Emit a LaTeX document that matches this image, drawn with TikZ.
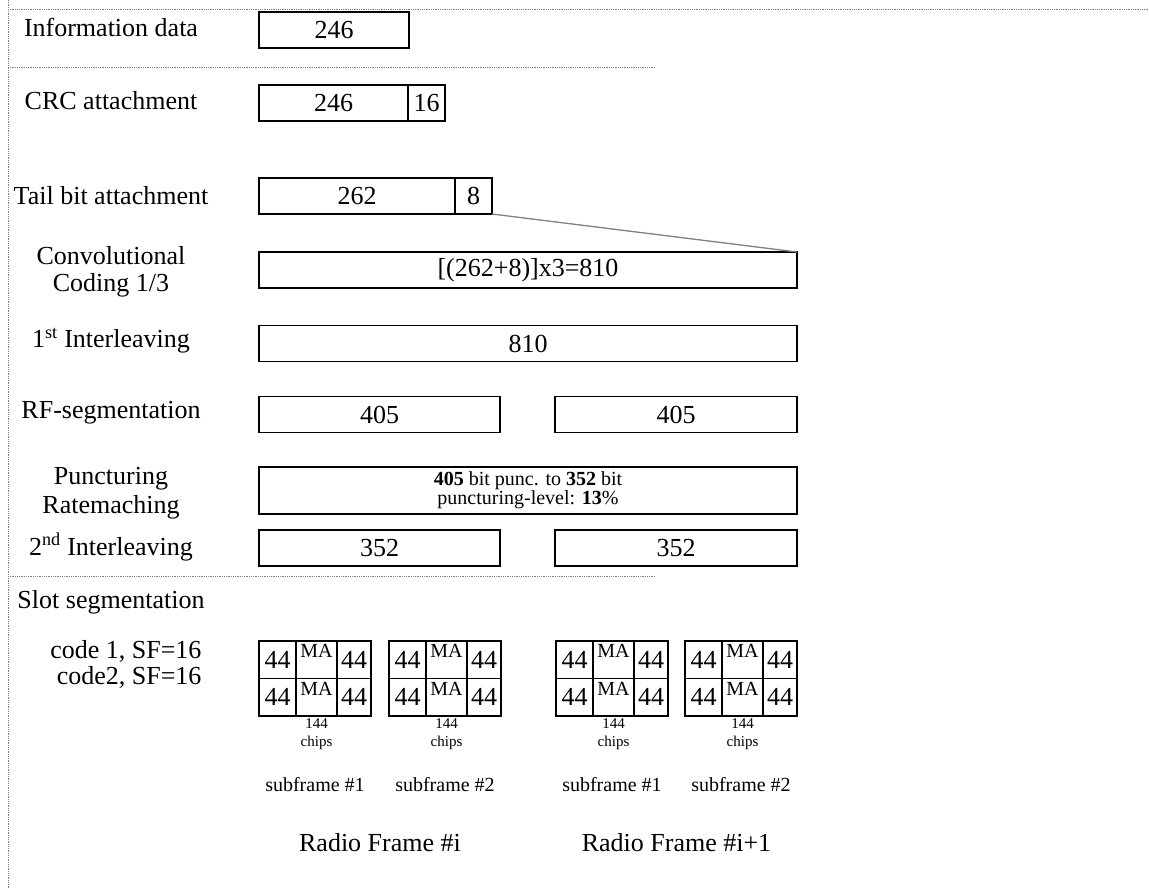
\documentclass[tikz,border=0pt]{standalone}
\usepackage{fontspec}
\setmainfont{Liberation Serif}
\usetikzlibrary{calc}

\begin{document}
\begin{tikzpicture}[x=1pt,y=-1pt,
  box/.style={draw, line width=1.6pt, inner sep=0pt, outer sep=0pt, minimum height=36, font=\fontsize{26}{30}\selectfont},
  cell/.style={draw, line width=1.6pt, inner sep=0pt, outer sep=0pt, minimum height=37.5, font=\fontsize{26}{30}\selectfont},
  lbl/.style={font=\fontsize{26}{27}\selectfont, align=center},
  small/.style={font=\fontsize{20}{23}\selectfont, align=center},
  tiny/.style={font=\fontsize{15}{18}\selectfont, align=center},
  sep/.style={draw=gray, line width=0.9pt, dash pattern=on 0.9pt off 0.9pt}]
\useasboundingbox (0,0) rectangle (1149,888);
% frame
\draw [sep] (8,0) -- (8,888);
\draw [sep] (8,9) -- (1149,9);
\draw [sep] (8,67) -- (655,67);
\draw [sep] (8,576) -- (655,576);
% labels
\node [lbl] (l-info) at (111,27) {Information data};
\node [lbl] (l-crc) at (111,101) {CRC attachment};
\node [lbl] (l-tail) at (111,196) {Tail bit attachment};
\node [lbl] (l-conv) at (111,272) {Convolutional\\Coding 1/3};
\node [lbl] (l-il1) at (111,341) {1\textsuperscript{st} Interleaving};
\node [lbl] (l-rf) at (111,413) {RF-segmentation};
\node [lbl] (l-punc) at (111,493) {Puncturing\\[2pt]Ratemaching};
\node [lbl] (l-il2) at (111,547) {2\textsuperscript{nd} Interleaving};
\node [lbl] (l-slot) at (111,602) {Slot segmentation};
\node [lbl, anchor=east] (l-code1) at (205,651) {code 1, SF=16};
\node [lbl, anchor=east] (l-code2) at (205,677) {code2, SF=16};
% bit blocks
\node [box, minimum width=150] (info) at (334,30) {246};
\node [box, minimum width=149] (crc) at (333.5,103) {246};
\node [box, minimum width=37, anchor=west] (crc-p) at (crc.east) {16};
\node [box, minimum width=196] (tail) at (357,196) {262};
\node [box, minimum width=37, anchor=west] (tail-b) at (tail.east) {8};
\node [box, minimum width=538] (conv) at (528,270) {[(262+8)]x3=810};
\draw [gray, line width=1.3pt] (tail-b.south east) -- (conv.north east);
\node [box, minimum width=538] (il1) at (528,343.5) {810};
\node [box, minimum width=241] (rf1) at (379.5,414.5) {405};
\node [box, minimum width=242] (rf2) at (676,414.5) {405};
\node [box, minimum width=538, minimum height=47, font=\fontsize{20}{19}\selectfont, align=center] (punc) at (528,490.5)
  {\textbf{405} bit punc. to \textbf{352} bit\\puncturing-level: \textbf{13}\%};
\node [box, minimum width=241] (il2a) at (379.5,548) {352};
\node [box, minimum width=242] (il2b) at (676,548) {352};
% slots
\foreach \bx/\nm in {259/a,389/b,556/c,685/d} {
  \foreach \ry/\rw in {659.75/1,697.25/2} {
    \node [cell, minimum width=37, anchor=west] (\nm\rw l) at (\bx,\ry) {44};
    \node [cell, minimum width=41, anchor=west] (\nm\rw m) at (\nm\rw l.east) {};
    \node [cell, minimum width=34, anchor=west] (\nm\rw r) at (\nm\rw m.east) {44};
    \node [small, anchor=north, inner sep=3.5pt] (\nm\rw t) at (\nm\rw m.north) {MA};
  }
  \node [tiny, anchor=north, inner sep=2pt] (\nm c) at (\nm2m.south) {144\\chips};
}
\node [small] (sf1) at ($(a1l.west)!0.5!(a1r.east)+(0,125)$) {subframe \#1};
\node [small] (sf2) at ($(b1l.west)!0.5!(b1r.east)+(0,125)$) {subframe \#2};
\node [small] (sf3) at ($(c1l.west)!0.5!(c1r.east)+(0,125)$) {subframe \#1};
\node [small] (sf4) at ($(d1l.west)!0.5!(d1r.east)+(0,125)$) {subframe \#2};
\node [lbl] (rf-i) at ($(sf1)!0.5!(sf2)+(0,58)$) {Radio Frame \#i};
\node [lbl] (rf-j) at ($(sf3)!0.5!(sf4)+(0,58)$) {Radio Frame \#i+1};
\end{tikzpicture}
\end{document}
